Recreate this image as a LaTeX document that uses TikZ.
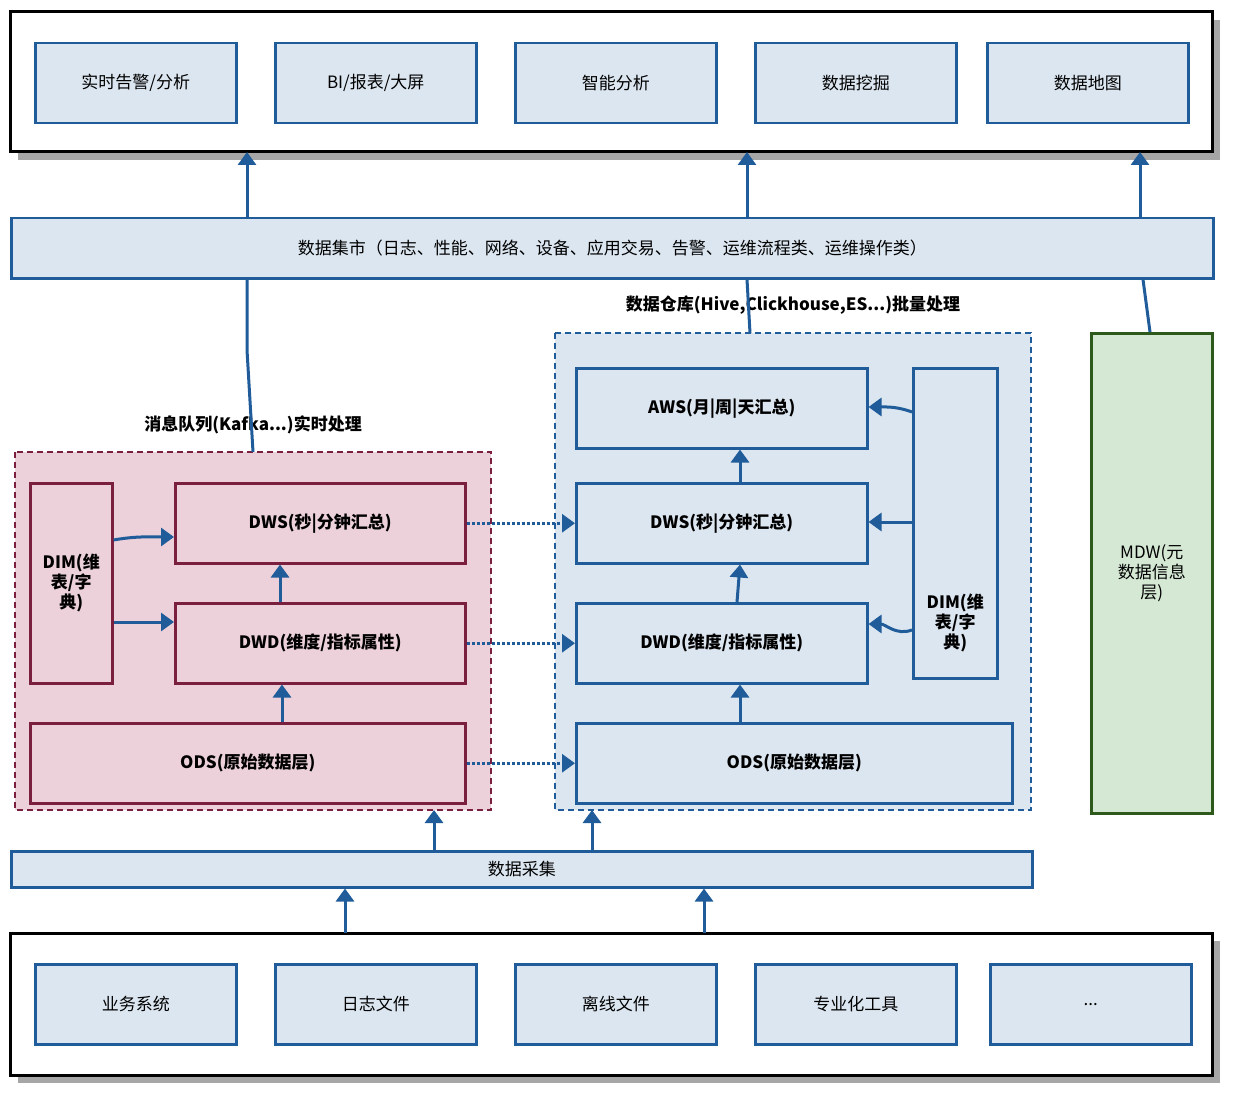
\documentclass[tikz,border=0pt]{standalone}
\usepackage{fontspec}
\setmainfont{Noto Sans CJK SC}
\usetikzlibrary{arrows.meta}
\definecolor{boxblue}{HTML}{DCE6F0}
\definecolor{lineblue}{HTML}{1F5C99}
\definecolor{boxpink}{HTML}{ECD0DA}
\definecolor{linered}{HTML}{7A1F3D}
\definecolor{boxgreen}{HTML}{D5E8D4}
\definecolor{linegreen}{HTML}{2D5A1B}
\tikzset{
    >={Triangle[width=18pt,length=13pt]},
    frame/.style={draw=black,line width=3pt,fill=white},
    shade/.style={fill=black!35},
    app/.style={draw=lineblue,line width=2.5pt,fill=boxblue,font=\fontsize{17}{20}\selectfont},
    layer/.style={draw=lineblue,line width=2.5pt,fill=boxblue,font=\fontsize{17}{20}\selectfont\bfseries,align=center},
    rlayer/.style={draw=linered,line width=2.5pt,fill=boxpink,font=\fontsize{17}{20}\selectfont\bfseries,align=center},
    group/.style={line width=2.5pt,dashed,dash pattern=on 6pt off 4pt},
    link/.style={draw=lineblue,line width=3pt},
    flow/.style={draw=lineblue,line width=3pt,dotted},
    title/.style={font=\fontsize{17}{20}\selectfont\bfseries},
}
\begin{document}
\begin{tikzpicture}[x=1pt,y=-1pt]
\useasboundingbox (0,0) rectangle (1234,1094);
% top and bottom frames
\fill[shade] (18,20) rectangle (1220,160);
\draw[frame] (10,12) rectangle (1212,152);
\fill[shade] (18,941) rectangle (1220,1083);
\draw[frame] (10,933) rectangle (1212,1075);
\coordinate (top) at (611,152);
\coordinate (bot) at (611,933);
% applications
\foreach \x/\t [count=\i] in {34/{实时告警/分析},274/{BI/报表/大屏},514/{智能分析},754/{数据挖掘},986/{数据地图}}
  \node[app,minimum width=201,minimum height=80,anchor=north west] (a\i) at (\x,42) {\t};
% sources
\foreach \x/\t [count=\i] in {34/{业务系统},274/{日志文件},514/{离线文件},754/{专业化工具},989/{{.}{.}{.}}}
  \node[app,minimum width=201,minimum height=80,anchor=north west] (s\i) at (\x,963) {\t};
% bars
\node[app,minimum width=1202,minimum height=60,anchor=north west] (mart) at (10,217) {数据集市（日志、性能、网络、设备、应用交易、告警、运维流程类、运维操作类）};
\node[app,minimum width=1021,minimum height=36,anchor=north west,inner sep=0] (collect) at (10,850) {数据采集};
% kafka group
\draw[group,draw=linered,fill=boxpink] (15,452) rectangle (491,810);
\coordinate (kafka) at (253,452);
\node[title] at (253,425) {消息队列(Kafka...)实时处理};
\node[rlayer,minimum width=82,minimum height=200,anchor=north west,inner sep=0] (kdim) at (29,482) {};
\node[rlayer,draw=none,fill=none,inner sep=0] at (kdim) {DIM(维\\表/字\\典)};
\node[rlayer,minimum width=290,minimum height=80,anchor=north west] (kdws) at (174,482) {DWS(秒|分钟汇总)};
\node[rlayer,minimum width=290,minimum height=80,anchor=north west] (kdwd) at (174,602) {DWD(维度/指标属性)};
\node[rlayer,minimum width=435,minimum height=80,anchor=north west] (kods) at (29,722) {ODS(原始数据层)};
% warehouse group
\draw[group,draw=lineblue,fill=boxblue] (555,333) rectangle (1031,810);
\coordinate (dw) at (750,333);
\node[title] at (793,305) {数据仓库(Hive,Clickhouse,ES...)批量处理};
\node[layer,minimum width=291,minimum height=80,anchor=north west] (aws) at (575,367) {AWS(月|周|天汇总)};
\node[layer,minimum width=291,minimum height=80,anchor=north west] (wdws) at (575,482) {DWS(秒|分钟汇总)};
\node[layer,minimum width=291,minimum height=80,anchor=north west] (wdwd) at (575,602) {DWD(维度/指标属性)};
\node[layer,minimum width=436,minimum height=80,anchor=north west] (wods) at (575,722) {ODS(原始数据层)};
\node[layer,minimum width=84,minimum height=310,anchor=north west,inner sep=0] (wdim) at (912,367) {};
\node[layer,draw=none,fill=none,inner sep=0] at ([yshift=-100]wdim.center) {DIM(维\\表/字\\典)};
% metadata
\node[draw=linegreen,line width=2.5pt,fill=boxgreen,minimum width=121,minimum height=480,anchor=north west,font=\fontsize{17}{20}\selectfont,align=center] (mdw) at (1090,332) {MDW(元\\数据信息\\层)};
% connectors
\draw[link,->] (mart.north -| 247,0) -- (top -| 247,0);
\draw[link,->] (mart.north -| 747,0) -- (top -| 747,0);
\draw[link,->] (mart.north -| 1140,0) -- (top -| 1140,0);
\draw[link] (kafka) -- (247,350) -- (mart.south -| 247,0);
\draw[link] (dw) -- (mart.south -| 747,0);
\draw[link] (mdw.north -| 1150,0) -- (mart.south -| 1143,0);
\draw[link,->] (kods.north -| 282,0) -- (kdwd.south -| 282,0);
\draw[link,->] (kdwd.north -| 280,0) -- (kdws.south -| 280,0);
\draw[link,->] (kdim.east |- 0,540) to[out=10,in=180] (kdws.west |- 0,537);
\draw[link,->] (kdim.east |- 0,622) -- (kdwd.west |- 0,622);
\draw[link,->] (wods.north -| 740,0) -- (wdwd.south -| 740,0);
\draw[link,->] (wdwd.north -| 737,0) -- (wdws.south -| 740,0);
\draw[link,->] (wdws.north -| 740,0) -- (aws.south -| 740,0);
\draw[link,->] (wdim.west |- 0,412) to[out=160,in=0] (aws.east |- 0,407);
\draw[link,->] (wdim.west |- 0,522) -- (wdws.east |- 0,522);
\draw[link,->] (wdim.west |- 0,630) to[out=200,in=0] (wdwd.east |- 0,624);
\draw[flow,->] (kdws) -- (wdws);
\draw[flow,->] (kdwd) -- (wdwd);
\draw[flow,->] (kods.east) -- (kods.east -| wods.west);
\draw[link,->] (collect.north -| 434,0) -- (434,810);
\draw[link,->] (collect.north -| 592,0) -- (592,810);
\draw[link,->] (bot -| 345,0) -- (collect.south -| 345,0);
\draw[link,->] (bot -| 704,0) -- (collect.south -| 704,0);
\end{tikzpicture}
\end{document}
